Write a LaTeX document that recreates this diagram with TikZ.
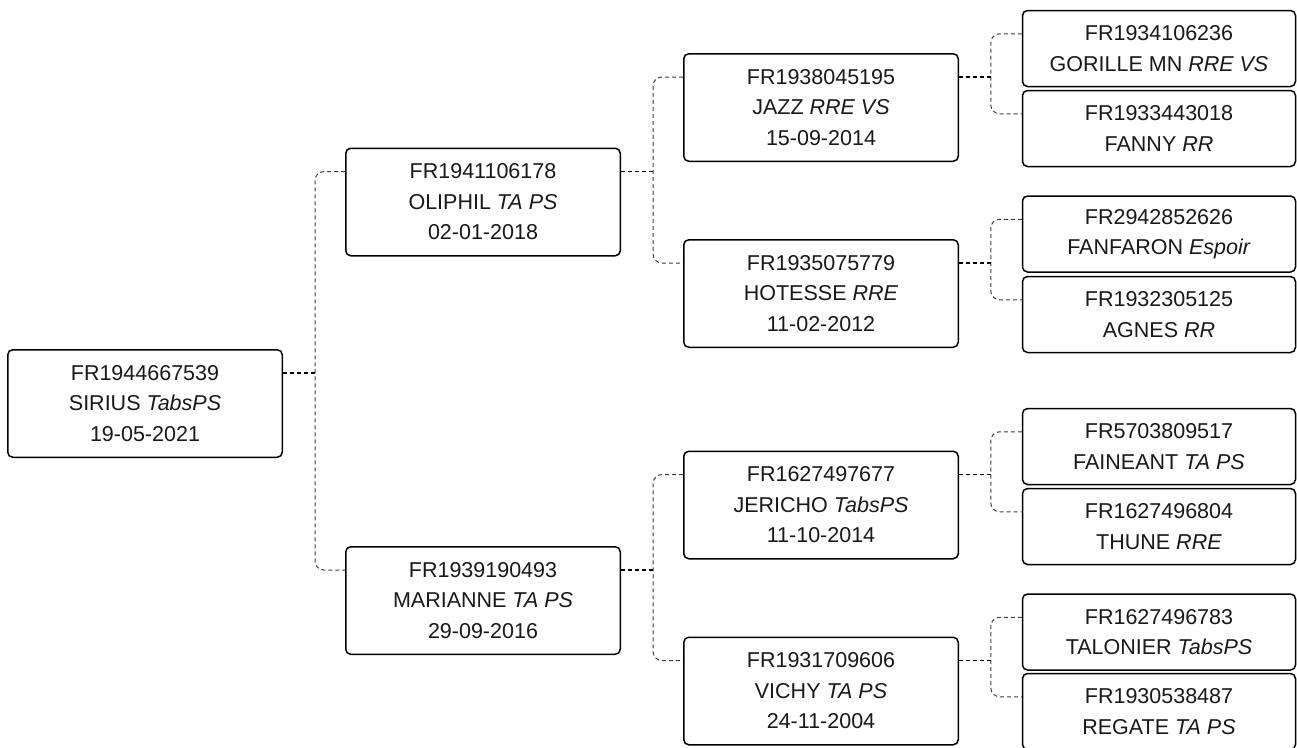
\documentclass[tikz,border=0pt]{standalone}
\usepackage{fontspec}
\setmainfont{Liberation Sans}
\begin{document}
\begin{tikzpicture}[x=1pt,y=-1pt,
  box/.style={draw=black, line width=1.5pt, rounded corners=5pt, align=center, inner sep=0pt, text=black!90, font=\fontsize{21.5}{30.5}\selectfont},
  big/.style={box, minimum width=274.5pt, minimum height=107.5pt},
  leaf/.style={box, minimum width=273pt, minimum height=76pt},
  conn/.style={draw=black!75, dash pattern=on 4pt off 3pt, line width=1pt},
  stub/.style={draw=black, dash pattern=on 4pt off 3pt, line width=1.2pt}]
\clip (0,0) rectangle (1297,747);
\fill[white] (0,0) rectangle (1297,747);
% level 0
\node[big] (sirius) at (145,403.5) {FR1944667539\\SIRIUS \textit{TabsPS}\\19-05-2021};
% level 1
\node[big] (oliphil) at (483,202) {FR1941106178\\OLIPHIL \textit{TA PS}\\02-01-2018};
\node[big] (marianne) at (483,600.5) {FR1939190493\\MARIANNE \textit{TA PS}\\29-09-2016};
% level 2
\node[big] (jazz) at (821,107.5) {FR1938045195\\JAZZ \textit{RRE VS}\\15-09-2014};
\node[big] (hotesse) at (821,293.5) {FR1935075779\\HOTESSE \textit{RRE}\\11-02-2012};
\node[big] (jericho) at (821,505) {FR1627497677\\JERICHO \textit{TabsPS}\\11-10-2014};
\node[big] (vichy) at (821,691) {FR1931709606\\VICHY \textit{TA PS}\\24-11-2004};
% level 3
\node[leaf] (gorille) at (1159,48.5) {FR1934106236\\GORILLE MN \textit{RRE VS}};
\node[leaf] (fanny) at (1159,128.5) {FR1933443018\\FANNY \textit{RR}};
\node[leaf] (fanfaron) at (1159,234) {FR2942852626\\FANFARON \textit{Espoir}};
\node[leaf] (agnes) at (1159,314.5) {FR1932305125\\AGNES \textit{RR}};
\node[leaf] (faineant) at (1159,446.5) {FR5703809517\\FAINEANT \textit{TA PS}};
\node[leaf] (thune) at (1159,526.5) {FR1627496804\\THUNE \textit{RRE}};
\node[leaf] (talonier) at (1159,632) {FR1627496783\\TALONIER \textit{TabsPS}};
\node[leaf] (regate) at (1159,711.5) {FR1930538487\\REGATE \textit{TA PS}};
% connectors
\foreach \p/\a/\b/\g in {sirius/oliphil/marianne/30, oliphil/jazz/hotesse/30, marianne/jericho/vichy/30,
  jazz/gorille/fanny/31, hotesse/fanfaron/agnes/31, jericho/faineant/thune/31, vichy/talonier/regate/31}{
  \draw[conn, rounded corners=9pt] ([yshift=-24pt]\a.north west) -| ([xshift=-\g pt,yshift=-24pt]\b.north west) -- ([yshift=-24pt]\b.north west);
  \draw[stub] ([yshift=-24pt]\p.north east) -- ([yshift=-24pt,xshift=32pt]\p.north east);
}
\end{tikzpicture}
\end{document}
